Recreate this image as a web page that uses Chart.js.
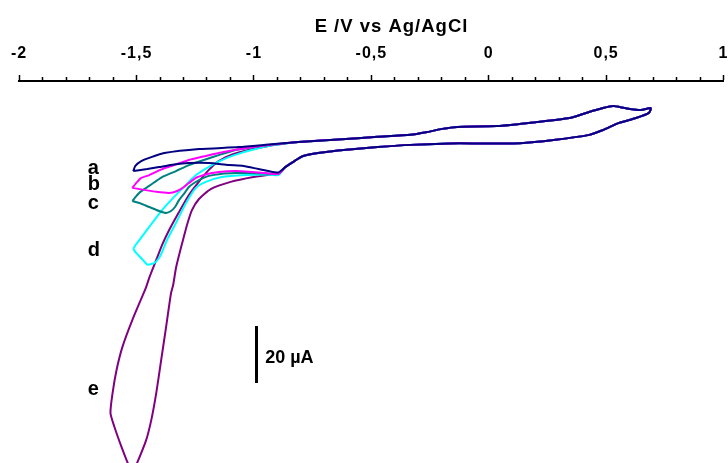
<!DOCTYPE html>
<html>
<head>
<meta charset="utf-8">
<script src="https://cdn.jsdelivr.net/npm/chart.js@4.4.1/dist/chart.umd.min.js"></script>
<style>
  html, body { margin: 0; padding: 0; background: #fff; overflow: hidden; }
  #wrap { width: 740px; height: 480px; }
</style>
</head>
<body>
<div id="wrap"><canvas id="cv"></canvas></div>
<script>
const FONT = "'Liberation Sans', Arial, sans-serif";

// ─── DATA (E in V vs Ag/AgCl, I in µA) ───────────────────────────────────────

const axisTitle = "E /V vs Ag/AgCl";
const curveNames = ["a", "b", "c", "d", "e"];
const curveColors = ["#000080", "#ff00ff", "#008080", "#00ffff", "#800080"];

// right-hand part, where all five scans overlap
const commonUpperV = [-0.811, -0.642, -0.473, -0.333, -0.261, -0.198, -0.135, 0.035, 0.204, 0.344, 0.415, 0.487, 0.530, 0.585, 0.648, 0.690];
const commonUpperI = [-1.4, -0.5, 0.4, 1.1, 2.1, 3.2, 3.9, 4.2, 5.6, 7.0, 8.8, 10.5, 11.2, 10.4, 9.8, 10.5];
const commonLowerV = [0.682, 0.627, 0.555, 0.487, 0.428, 0.276, 0.132, -0.020, -0.164, -0.359, -0.473, -0.642, -0.727, -0.790, -0.811, -0.841, -0.866];
const commonLowerI = [8.8, 7.0, 5.3, 2.8, 1.1, -0.7, -1.8, -1.9, -1.9, -2.5, -3.2, -4.4, -5.3, -6.3, -7.2, -8.8, -10.2];

// curve a
const aUpperV = [-1.514, -1.505, -1.480, -1.437, -1.382, -1.234, -1.065, -0.938];
const aUpperI = [-11.6, -9.8, -8.1, -6.7, -5.3, -3.9, -3.2, -2.3];
const aLowerV = [-0.896, -0.938, -0.981, -1.044, -1.107, -1.192, -1.277, -1.340, -1.404, -1.454, -1.497, -1.514];
const aLowerI = [-12.1, -11.6, -10.9, -9.8, -9.5, -8.8, -8.8, -9.3, -10.2, -10.9, -11.4, -11.6];

// curve b
const bUpperV = [-1.518, -1.497, -1.480, -1.446, -1.391, -1.340, -1.277, -1.205, -1.129, -1.044, -0.938];
const bUpperI = [-17.5, -15.4, -14.0, -13.0, -10.9, -9.5, -7.7, -6.3, -4.9, -3.7, -2.5];
const bLowerV = [-0.896, -0.951, -1.023, -1.078, -1.150, -1.179, -1.213, -1.247, -1.277, -1.298, -1.327, -1.361, -1.416, -1.467, -1.518];
const bLowerI = [-12.6, -12.3, -11.8, -11.6, -11.9, -12.3, -13.0, -14.0, -15.8, -17.2, -18.6, -19.3, -18.9, -18.2, -17.5];

// curve c
const cUpperV = [-1.518, -1.501, -1.484, -1.446, -1.391, -1.332, -1.277, -1.213, -1.150, -1.078, -1.002, -0.917];
const cUpperI = [-22.1, -20.4, -18.9, -16.8, -13.7, -11.6, -9.5, -7.7, -6.0, -4.2, -3.2, -2.3];
const cLowerV = [-0.896, -0.951, -1.023, -1.078, -1.141, -1.192, -1.226, -1.255, -1.277, -1.298, -1.319, -1.336, -1.353, -1.374, -1.404, -1.446, -1.488, -1.518];
const cLowerI = [-12.6, -12.5, -12.3, -12.3, -12.6, -13.3, -14.4, -15.8, -17.2, -19.6, -21.8, -24.2, -25.6, -26.3, -25.6, -24.2, -22.8, -22.1];

// curve d
const dUpperV = [-1.514, -1.501, -1.484, -1.446, -1.391, -1.353, -1.319, -1.277, -1.247, -1.179, -1.107, -1.010, -0.917];
const dUpperI = [-38.9, -37.2, -35.4, -31.2, -25.3, -21.8, -18.9, -15.4, -13.0, -9.5, -6.7, -4.2, -2.5];
const dLowerV = [-0.896, -0.951, -1.036, -1.137, -1.205, -1.247, -1.289, -1.332, -1.370, -1.391, -1.404, -1.425, -1.454, -1.480, -1.501, -1.514];
const dLowerI = [-13.0, -12.8, -13.0, -13.7, -15.4, -17.5, -22.8, -29.8, -35.8, -40.0, -42.1, -43.9, -44.4, -42.1, -40.4, -38.9];

// curve e
const eUpperV = [-1.518, -1.539, -1.564, -1.594, -1.611, -1.602, -1.585, -1.560, -1.518, -1.459, -1.446, -1.416, -1.391, -1.361, -1.319, -1.277, -1.239, -1.192, -1.150, -1.086, -1.023, -0.938, -0.854];
const eUpperI = [-117.5, -113.7, -108.4, -101.4, -96.5, -89.5, -81.4, -73.3, -63.9, -52.3, -49.1, -42.8, -37.5, -32.3, -26.0, -20.0, -15.8, -11.2, -8.1, -5.6, -4.2, -2.8, -1.8];
const eLowerV = [-0.896, -0.926, -1.002, -1.099, -1.184, -1.234, -1.264, -1.285, -1.302, -1.319, -1.332, -1.344, -1.353, -1.374, -1.395, -1.416, -1.437, -1.459, -1.501, -1.518];
const eLowerI = [-12.6, -12.8, -13.7, -15.4, -17.9, -21.4, -25.3, -30.5, -35.8, -41.1, -45.6, -51.6, -54.4, -66.3, -77.9, -89.5, -98.9, -106.0, -114.7, -117.5];

// curve letters
const labelV = -1.708;
const labelI = [-12.6, -18.2, -24.9, -41.4, -90.2];

// 20 µA scale bar
const scaleBarV = [-0.989, -0.989];
const scaleBarI = [-66, -86];
const scaleText = "20 µA";
const scaleTextV = -0.952;
const scaleTextI = -79.1;

const titleCenterV = -0.414;

// ─── HELPERS ─────────────────────────────────────────────────────────────────

function pts(vs, is) { return vs.map((v, k) => ({ x: v, y: is[k] })); }

function loop(uV, uI, lV, lI) {
    return [
        ...pts(uV, uI),
        ...pts(commonUpperV, commonUpperI),
        ...pts(commonLowerV, commonLowerI),
        ...pts(lV, lI)
    ];
}

function isMajor(v) { return Math.abs(v * 2 - Math.round(v * 2)) < 1e-6; }
function fmt(v) { return String(Math.round(v * 10) / 10).replace(".", ","); }

const loops = [
    loop(aUpperV, aUpperI, aLowerV, aLowerI),
    loop(bUpperV, bUpperI, bLowerV, bLowerI),
    loop(cUpperV, cUpperI, cLowerV, cLowerI),
    loop(dUpperV, dUpperI, dLowerV, dLowerI),
    loop(eUpperV, eUpperI, eLowerV, eLowerI)
];

const datasets = loops.map((d, i) => ({
    label: curveNames[i],
    data: d,
    showLine: true,
    borderColor: curveColors[i],
    borderWidth: 2,
    pointRadius: 0,
    tension: 0.2,
    fill: false
}));

datasets.push({
    label: "scale",
    data: pts(scaleBarV, scaleBarI),
    showLine: true,
    borderColor: "#000",
    borderWidth: 3,
    pointRadius: 0
});

// ─── TEXT PLUGIN ─────────────────────────────────────────────────────────────

const textPlugin = {
    id: "cvText",
    beforeDraw(chart) { chart.ctx.letterSpacing = "1px"; },
    afterDraw(chart) {
        const { ctx, scales: { x, y } } = chart;
        ctx.save();
        ctx.fillStyle = "#000";
        ctx.textBaseline = "alphabetic";

        ctx.letterSpacing = "1px";
        ctx.textAlign = "center";
        ctx.font = `bold 18.5px ${FONT}`;
        ctx.fillText(axisTitle, x.getPixelForValue(titleCenterV), x.top + 32);

        ctx.letterSpacing = "0px";
        ctx.textAlign = "left";
        ctx.font = `bold 20px ${FONT}`;
        curveNames.forEach((n, i) => {
            ctx.fillText(n, x.getPixelForValue(labelV), y.getPixelForValue(labelI[i]));
        });

        ctx.font = `bold 18px ${FONT}`;
        ctx.fillText(scaleText, x.getPixelForValue(scaleTextV), y.getPixelForValue(scaleTextI));
        ctx.restore();
    }
};

// ─── CHART ───────────────────────────────────────────────────────────────────

new Chart(document.getElementById("cv"), {
    type: "scatter",
    data: { datasets },
    plugins: [textPlugin],
    options: {
        responsive: true,
        maintainAspectRatio: false,
        devicePixelRatio: 1,
        animation: false,
        layout: { padding: { left: 19, right: 11, top: 0, bottom: 0 } },
        plugins: { legend: { display: false }, tooltip: { enabled: false } },
        scales: {
            x: {
                type: "linear",
                position: "top",
                min: -2,
                max: 1,
                afterFit: s => { s.height = 81; },
                border: { display: true, color: "#000", width: 2 },
                grid: {
                    drawOnChartArea: false,
                    drawTicks: true,
                    tickLength: 6,
                    tickWidth: 1.5,
                    tickColor: "#000",
                    tickBorderDash: c => (c.tick && isMajor(c.tick.value)) ? [] : [0, 2, 4, 0]
                },
                ticks: {
                    stepSize: 0.1,
                    autoSkip: false,
                    maxRotation: 0,
                    padding: 12,
                    color: "#000",
                    font: { family: FONT, size: 16, weight: "bold" },
                    callback: v => isMajor(v) ? fmt(v) : ""
                }
            },
            y: {
                display: false,
                min: -120,
                max: 20
            }
        }
    }
});
</script>
</body>
</html>
